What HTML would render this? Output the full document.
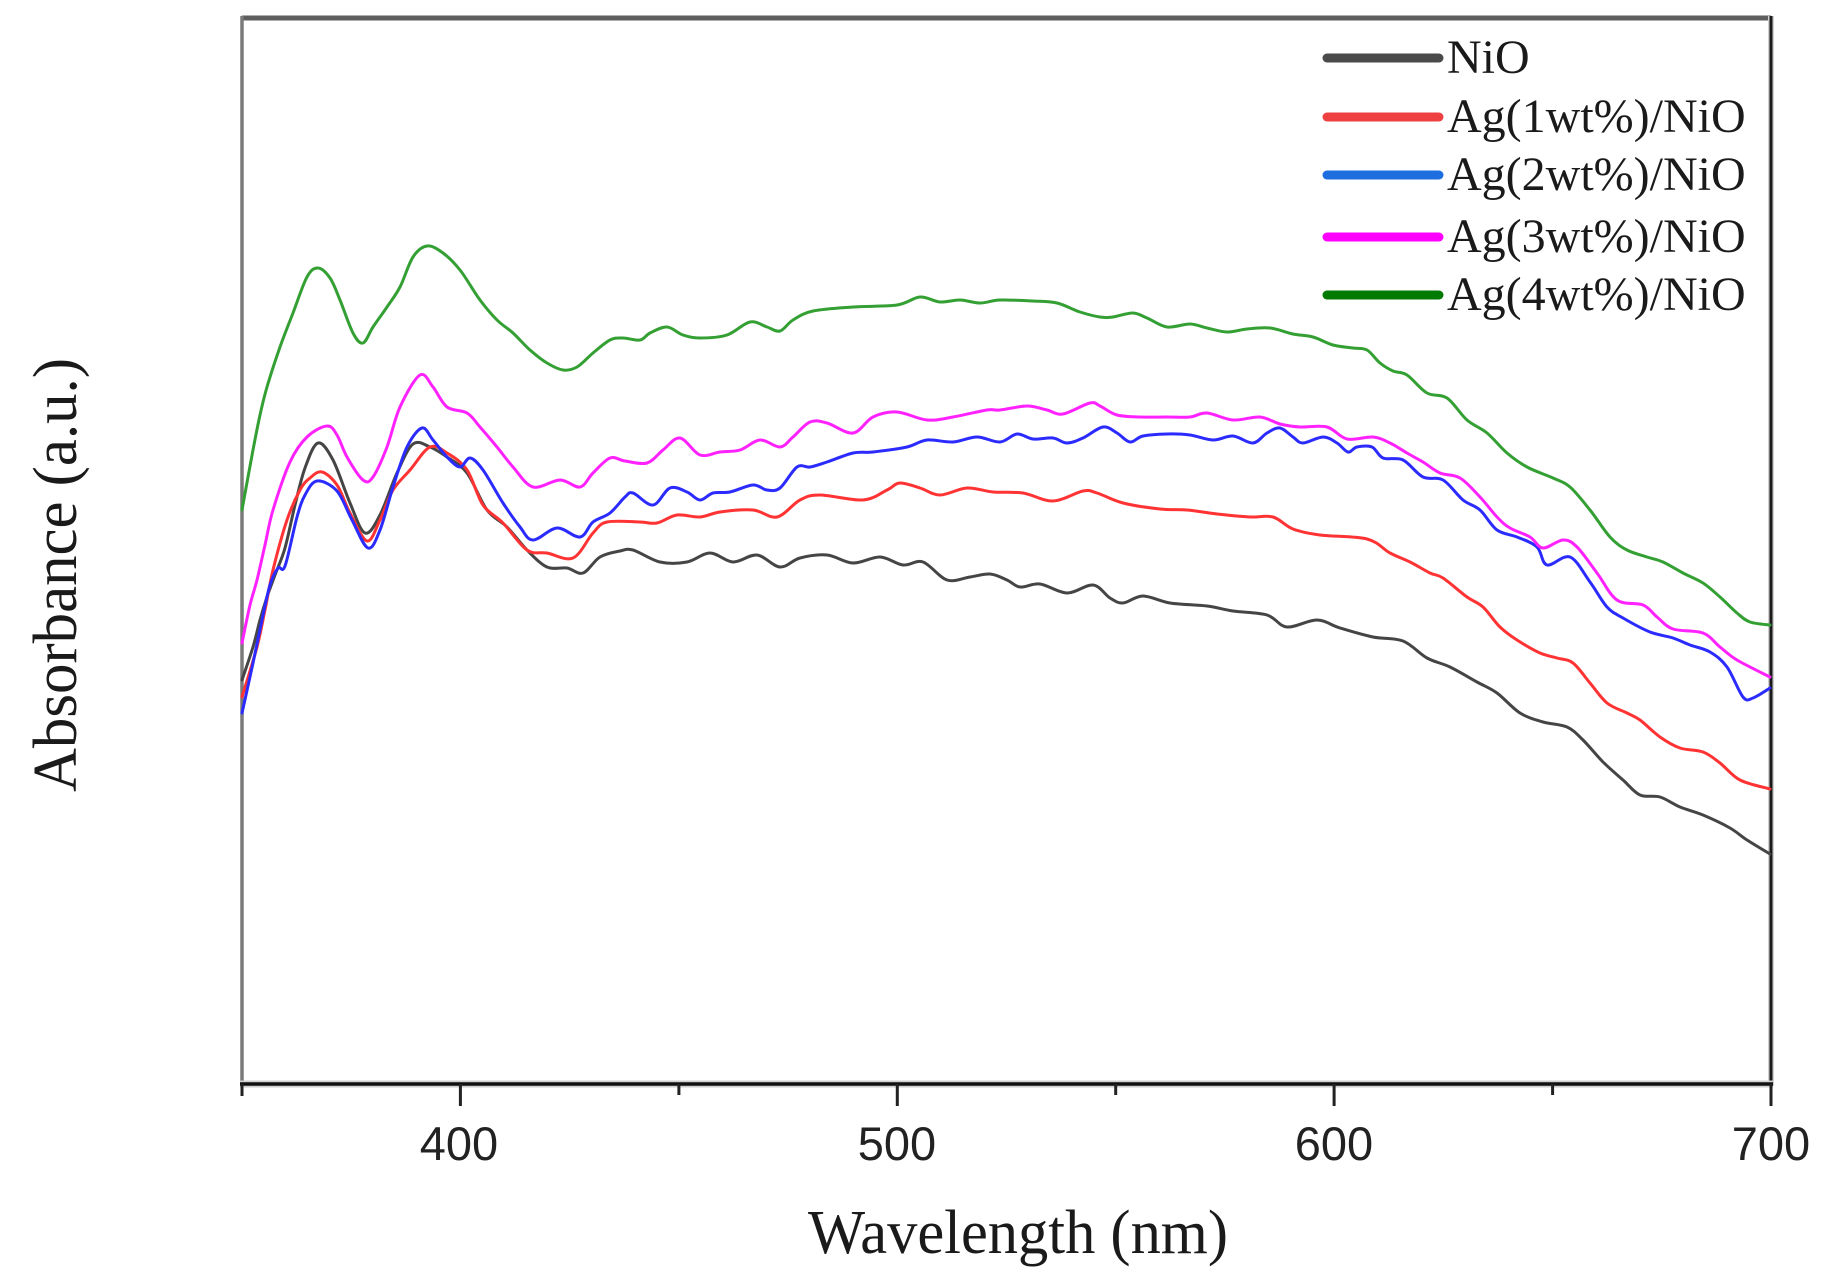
<!DOCTYPE html>
<html>
<head>
<meta charset="utf-8">
<style>
html,body{margin:0;padding:0;background:#fff;}
svg{display:block;}
</style>
</head>
<body>
<svg id="chart" width="1825" height="1271" viewBox="0 0 1825 1271" xmlns="http://www.w3.org/2000/svg">
<rect width="1825" height="1271" fill="#fff"/>
<!-- frame -->
<line x1="242" y1="18" x2="1771" y2="18" stroke="#5e5e5e" stroke-width="5"/>
<line x1="242" y1="16" x2="242" y2="1086" stroke="#7a7a7a" stroke-width="3.5"/>
<line x1="1771" y1="16" x2="1771" y2="1086" stroke="#cfcfcf" stroke-width="6"/>
<line x1="1771" y1="16" x2="1771" y2="1086" stroke="#1a1a1a" stroke-width="3"/>
<line x1="240" y1="1084" x2="1773" y2="1084" stroke="#cfcfcf" stroke-width="7"/>
<line x1="240" y1="1084" x2="1773" y2="1084" stroke="#111" stroke-width="3.5"/>
<!-- ticks -->
<g stroke="#222" stroke-width="3">
<line x1="242" y1="1084" x2="242" y2="1096"/>
<line x1="460.4" y1="1084" x2="460.4" y2="1106"/>
<line x1="678.9" y1="1084" x2="678.9" y2="1095"/>
<line x1="897.3" y1="1084" x2="897.3" y2="1106"/>
<line x1="1115.7" y1="1084" x2="1115.7" y2="1095"/>
<line x1="1334.1" y1="1084" x2="1334.1" y2="1106"/>
<line x1="1552.6" y1="1084" x2="1552.6" y2="1095"/>
<line x1="1771" y1="1084" x2="1771" y2="1106"/>
</g>
<g font-family="Liberation Sans, Arial, sans-serif" font-size="47" fill="#222" text-anchor="middle">
<text x="459" y="1160">400</text>
<text x="897" y="1160">500</text>
<text x="1334" y="1160">600</text>
<text x="1771" y="1160">700</text>
</g>
<text x="1018" y="1253" font-family="Liberation Serif, Times New Roman, serif" font-size="62" fill="#1a1a1a" text-anchor="middle" textLength="420" lengthAdjust="spacingAndGlyphs">Wavelength (nm)</text>
<text transform="translate(76,575) rotate(-90)" x="0" y="0" font-family="Liberation Serif, Times New Roman, serif" font-size="62" fill="#1a1a1a" text-anchor="middle" textLength="434" lengthAdjust="spacingAndGlyphs">Absorbance (a.u.)</text>

<!-- series -->
<g id="series" fill="none" stroke-width="3" stroke-linejoin="round" stroke-linecap="round">
<polyline stroke="#454545" points="242,680 253,647 260,620 267,597 275,575 285,548 295,505 305,468 318,443 333,460 350,503 365,533 380,515 397,473 413,444 430,447 447,457 467,473 487,510 507,527 527,550 547,567 567,568 583,573 600,557 620,551 633,550 660,562 687,562 710,553 733,562 757,555 780,567 800,558 827,555 853,563 880,557 903,565 923,562 947,580 970,577 990,574 1007,580 1020,587 1040,584 1067,593 1093,585 1110,598 1123,603 1143,596 1170,603 1207,606 1233,611 1267,615 1287,627 1317,620 1340,628 1373,637 1403,641 1427,658 1450,667 1477,682 1497,693 1520,713 1543,722 1567,727 1583,740 1603,762 1623,780 1640,795 1660,797 1680,807 1703,815 1730,828 1747,840 1770,854"/>
<polyline stroke="#ff3333" points="242,697 257,647 265,610 273,570 287,520 300,490 310,478 322,472 337,485 350,513 367,541 380,520 393,490 410,470 430,447 447,453 467,470 483,505 503,523 527,550 547,553 573,558 593,533 607,522 640,522 657,523 677,515 700,517 720,512 753,510 777,517 800,500 820,495 863,500 887,490 900,483 920,488 940,495 967,488 993,492 1023,493 1053,501 1083,491 1097,493 1123,503 1160,509 1187,510 1217,514 1250,517 1273,517 1293,529 1320,535 1367,539 1390,553 1410,562 1430,573 1443,578 1467,597 1483,607 1500,627 1517,640 1540,653 1557,658 1573,663 1590,683 1607,703 1627,713 1640,720 1660,737 1680,748 1703,752 1720,763 1740,780 1770,789"/>
<polyline stroke="#2b2bff" points="242,713 253,663 262,620 270,585 278,568 285,566 297,517 305,495 317,481 337,491 352,520 368,548 380,530 393,487 407,447 422,428 433,440 447,457 460,467 470,458 483,470 503,503 520,527 533,540 557,528 580,537 593,522 610,513 625,497 633,493 653,505 670,488 687,492 700,500 713,493 730,492 753,485 767,490 780,488 797,467 810,467 827,462 853,453 873,452 907,447 927,440 953,442 977,437 1000,442 1017,434 1033,439 1053,438 1067,443 1083,438 1103,427 1117,433 1130,442 1143,436 1167,434 1190,435 1213,440 1233,436 1253,443 1267,433 1280,428 1293,437 1303,443 1323,437 1337,443 1348,452 1357,447 1372,447 1383,458 1403,460 1423,477 1443,480 1463,500 1480,510 1497,530 1517,537 1537,547 1547,565 1570,557 1590,582 1607,607 1623,618 1650,632 1673,638 1690,645 1710,652 1727,667 1743,697 1753,698 1770,688"/>
<polyline stroke="#ff22ff" points="242,643 250,605 257,580 265,545 273,510 290,462 307,437 327,426 337,435 347,457 363,480 373,477 387,447 400,407 420,375 433,387 447,407 467,413 480,427 497,447 513,467 533,487 560,480 580,487 593,473 610,458 625,461 647,463 663,450 680,438 700,455 720,452 740,450 760,440 780,447 793,437 810,422 827,423 853,433 873,417 897,412 927,420 953,417 987,410 1000,410 1027,406 1047,410 1063,414 1090,403 1100,406 1117,415 1140,417 1167,417 1190,417 1207,413 1233,420 1260,417 1280,424 1300,427 1327,427 1347,439 1373,437 1390,443 1407,453 1423,462 1440,473 1460,478 1480,497 1497,517 1510,528 1530,537 1543,548 1563,540 1577,547 1597,573 1617,600 1643,605 1657,617 1673,629 1703,633 1720,647 1737,660 1770,677"/>
<polyline stroke="#34a034" points="242,510 253,450 260,415 267,387 280,347 293,313 307,277 318,268 330,278 340,300 353,333 363,343 373,327 387,307 400,287 413,257 427,246 443,253 460,270 480,300 497,320 513,333 530,350 547,363 563,370 577,367 593,353 610,340 623,338 640,340 650,333 667,327 683,335 700,338 727,335 750,322 767,327 780,331 793,320 813,311 853,307 897,305 920,297 940,302 960,300 980,303 1000,300 1033,301 1057,303 1080,312 1100,317 1113,317 1133,313 1147,318 1167,327 1190,324 1207,328 1227,332 1247,329 1270,328 1293,334 1313,337 1333,345 1353,348 1367,350 1380,363 1393,371 1407,375 1427,393 1447,398 1467,420 1487,433 1507,453 1527,467 1553,478 1570,487 1590,510 1610,537 1627,550 1647,557 1663,562 1683,573 1703,583 1720,597 1737,613 1750,622 1770,625"/>
</g>

<!-- legend -->
<g stroke-width="9" stroke-linecap="round">
<line x1="1327" y1="58" x2="1439" y2="58" stroke="#4a4a4a"/>
<line x1="1327" y1="117" x2="1439" y2="117" stroke="#ee4040"/>
<line x1="1327" y1="175" x2="1439" y2="175" stroke="#1e6ee0"/>
<line x1="1327" y1="237" x2="1439" y2="237" stroke="#ff00ff"/>
<line x1="1327" y1="295" x2="1439" y2="295" stroke="#007a00"/>
</g>
<g font-family="Liberation Serif, Times New Roman, serif" font-size="48" fill="#1a1a1a">
<text x="1447" y="73">NiO</text>
<text x="1447" y="132">Ag(1wt%)/NiO</text>
<text x="1447" y="190">Ag(2wt%)/NiO</text>
<text x="1447" y="252">Ag(3wt%)/NiO</text>
<text x="1447" y="310">Ag(4wt%)/NiO</text>
</g>
</svg>
<script>
(function(){
  try{
    var ns="http://www.w3.org/2000/svg";
    var g=document.getElementById("series");
    var pls=Array.prototype.slice.call(g.getElementsByTagName("polyline"));
    pls.forEach(function(pl){
      var raw=pl.getAttribute("points").trim().split(/\s+/).map(function(s){var a=s.split(",");return [parseFloat(a[0]),parseFloat(a[1])];});
      if(raw.length<3) return;
      var d="M"+raw[0][0]+","+raw[0][1];
      for(var i=0;i<raw.length-1;i++){
        var p0=raw[i-1]||raw[i], p1=raw[i], p2=raw[i+1], p3=raw[i+2]||p2;
        var t=0.5/3;
        var c1x=p1[0]+(p2[0]-p0[0])*t, c1y=p1[1]+(p2[1]-p0[1])*t;
        var c2x=p2[0]-(p3[0]-p1[0])*t, c2y=p2[1]-(p3[1]-p1[1])*t;
        d+=" C"+c1x.toFixed(1)+","+c1y.toFixed(1)+" "+c2x.toFixed(1)+","+c2y.toFixed(1)+" "+p2[0]+","+p2[1];
      }
      var path=document.createElementNS(ns,"path");
      path.setAttribute("d",d);
      path.setAttribute("stroke",pl.getAttribute("stroke"));
      g.insertBefore(path,pl);
      g.removeChild(pl);
    });
  }catch(e){}
})();
</script>
</body>
</html>
